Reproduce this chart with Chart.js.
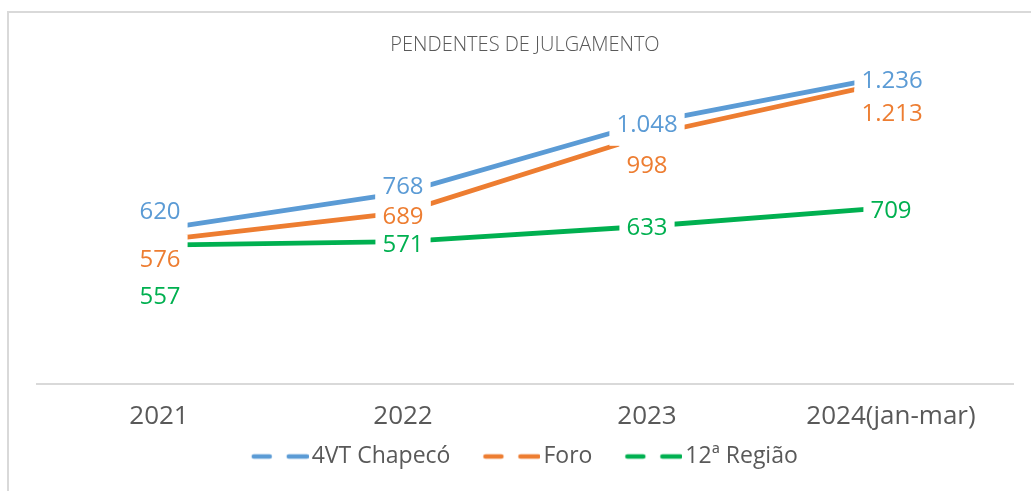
<!DOCTYPE html>
<html lang="pt-BR">
<head>
<meta charset="utf-8">
<title>Pendentes de Julgamento</title>
<script src="https://cdn.jsdelivr.net/npm/chart.js@4.4.1/dist/chart.umd.min.js"></script>
<style>
  html, body { margin: 0; padding: 0; background: #ffffff; overflow: hidden; }
  #frame { position: absolute; left: 7px; top: 11px; width: 2000px; height: 2000px;
           border: 2px solid #d9d9d9; box-sizing: border-box; }
  #wrap { position: absolute; left: 0; top: 0; width: 1031px; height: 491px; }
</style>
</head>
<body>
<div id="frame"></div>
<div id="wrap"><canvas id="chart"></canvas></div>
<script>
// ---- data ----
const categories = ['2021', '2022', '2023', '2024(jan-mar)'];
const seriesNames = ['4VT Chapecó', 'Foro', '12ª Região'];
const chapeco = [620, 768, 1048, 1236];
const foro = [576, 689, 998, 1213];
const regiao12 = [557, 571, 633, 709];
const chartTitle = 'PENDENTES DE JULGAMENTO';

// ---- style ----
const colors = ['#5B9BD5', '#ED7D31', '#00B050'];
const textGray = '#595959';
const FONT = '"Open Sans", "Noto Sans", sans-serif';
// label placement relative to each point: [dx, dy] in px (text centre)
const labelOffsets = [
  [[1, -19], [0, -7], [0, 1], [1, 3]],
  [[1, 18], [0, 3], [0, 29], [1, 31]],
  [[1, 50], [0, 2], [0, 0], [0, 2]]
];

function fmt(v) {
  return String(v).replace(/\B(?=(\d{3})+(?!\d))/g, '.');
}

// legend markers: dashed line images
const LEG_W = 48;      // pointStyleWidth
const IMG_W = 65;      // image width
const MARK_L = 8;      // transparent left part
function makeMarker(color) {
  const c = document.createElement('canvas');
  c.width = IMG_W; c.height = 10;
  const g = c.getContext('2d');
  g.strokeStyle = color;
  g.lineWidth = 4.5;
  g.lineCap = 'round';
  g.beginPath();
  g.moveTo(MARK_L + 2, 5); g.lineTo(MARK_L + 18, 5);
  g.moveTo(MARK_L + 37, 5); g.lineTo(MARK_L + 55, 5);
  g.stroke();
  return c;
}
const markers = colors.map(makeMarker);

const valueLabels = {
  id: 'valueLabels',
  afterDatasetsDraw(chart) {
    const ctx = chart.ctx;
    const size = 24;
    ctx.save();
    ctx.font = size + 'px ' + FONT;
    ctx.textAlign = 'center';
    ctx.textBaseline = 'alphabetic';
    const items = [];
    chart.data.datasets.forEach((ds, di) => {
      const meta = chart.getDatasetMeta(di);
      meta.data.forEach((pt, i) => {
        const txt = fmt(ds.data[i]);
        const off = labelOffsets[di][i];
        items.push({ txt, x: pt.x + off[0], y: pt.y + off[1], color: ds.borderColor });
      });
    });
    ctx.fillStyle = '#ffffff';
    items.forEach(it => {
      const w = ctx.measureText(it.txt).width;
      ctx.fillRect(it.x - w / 2 - 7, it.y - 24, w + 14, 46);
    });
    items.forEach(it => {
      ctx.fillStyle = it.color;
      ctx.fillText(it.txt, it.x, it.y + size * 0.357);
    });
    ctx.restore();
  }
};

const allSeries = [chapeco, foro, regiao12];
new Chart(document.getElementById('chart'), {
  type: 'line',
  data: {
    labels: categories,
    datasets: allSeries.map((d, i) => ({
      label: seriesNames[i],
      data: d,
      borderColor: colors[i],
      backgroundColor: colors[i],
      borderWidth: 4.8,
      pointRadius: 0,
      pointHoverRadius: 0,
      tension: 0,
      fill: false
    }))
  },
  options: {
    responsive: true,
    maintainAspectRatio: false,
    animation: false,
    layout: { padding: { left: 37, right: 18, top: 0, bottom: 13 } },
    scales: {
      x: {
        offset: true,
        grid: { display: false, drawTicks: false },
        border: { display: true, color: '#d9d9d9', width: 2 },
        ticks: { color: textGray, mirror: true, padding: -48.6, font: { family: FONT, size: 26 } },
        afterFit(scale) { scale.height = 27.5; }
      },
      y: {
        display: false,
        min: 0,
        max: 1300
      }
    },
    plugins: {
      title: {
        display: true,
        text: chartTitle,
        color: textGray,
        font: { family: FONT, size: 20, weight: '300' },
        padding: { top: 33, bottom: 3 }
      },
      legend: {
        position: 'bottom',
        labels: {
          usePointStyle: true,
          pointStyleWidth: LEG_W,
          padding: 33.5,
          color: textGray,
          font: { family: FONT, size: 23 },
          generateLabels(chart) {
            const items = Chart.defaults.plugins.legend.labels.generateLabels(chart);
            items.forEach((it, i) => { it.pointStyle = markers[i]; });
            return items;
          }
        }
      },
      tooltip: { enabled: false }
    }
  },
  plugins: [valueLabels]
});
</script>
</body>
</html>
